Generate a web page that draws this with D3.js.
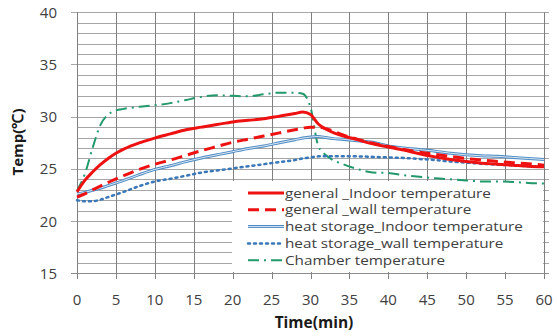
<!DOCTYPE html>
<html>
<head>
<meta charset="utf-8">
<script src="https://cdn.jsdelivr.net/npm/d3@7"></script>
<style>
  body { margin: 0; background: #fff; }
  svg { display: block; }
  text { font-family: "Open Sans", "Liberation Sans", sans-serif; }
</style>
</head>
<body>
<div id="chart"></div>
<script>
//time in minutes, shared by every series
const times = [0,1,2,3,4,5,6,8,10,12,14,16,18,20,22,24,26,28,29,30,31,32,33,34,36,38,40,42,44,46,48,50,52,54,56,58,60];

const generalIndoor = [22.8,23.9,24.7,25.4,26.0,26.5,26.9,27.5,27.95,28.35,28.75,29.0,29.25,29.5,29.65,29.8,30.05,30.3,30.45,30.2,29.3,28.8,28.45,28.2,27.8,27.4,27.1,26.8,26.45,26.15,25.9,25.7,25.55,25.45,25.35,25.25,25.2];
const generalWall = [22.3,22.6,23.0,23.35,23.7,24.05,24.35,24.95,25.45,25.85,26.3,26.75,27.15,27.55,27.85,28.15,28.45,28.75,28.9,29.0,29.0,28.85,28.6,28.3,27.85,27.45,27.15,26.85,26.6,26.4,26.2,26.0,25.85,25.7,25.6,25.5,25.35];
const storageIndoor = [22.6,22.75,22.95,23.15,23.4,23.65,23.9,24.45,24.95,25.3,25.7,26.05,26.35,26.65,26.95,27.2,27.5,27.8,27.95,28.05,28.1,28.0,27.9,27.85,27.7,27.55,27.2,27.0,26.85,26.7,26.5,26.35,26.25,26.2,26.1,26.0,25.9];
const storageWall = [22.0,21.9,21.9,22.05,22.3,22.55,22.8,23.35,23.8,24.05,24.35,24.65,24.85,25.05,25.25,25.45,25.65,25.85,26.0,26.1,26.2,26.2,26.2,26.2,26.2,26.15,26.1,26.05,25.95,25.85,25.7,25.6,25.5,25.4,25.35,25.25,25.2];
const chamber = [22.9,24.5,27.0,29.2,30.2,30.6,30.75,30.95,31.1,31.3,31.6,31.9,32.05,32.0,31.95,32.15,32.3,32.3,32.2,30.9,27.2,26.3,25.8,25.5,25.0,24.65,24.6,24.4,24.25,24.1,24.0,23.9,23.8,23.8,23.75,23.65,23.6];

const xTicks = [0,5,10,15,20,25,30,35,40,45,50,55,60];
const yTicks = [15,20,25,30,35,40];
const seriesNames = ["general _Indoor temperature","general _wall temperature","heat storage_Indoor temperature","heat storage_wall temperature","Chamber temperature"];

const W = 557, H = 336;
const svg = d3.select("#chart").append("svg").attr("width", W).attr("height", H);

const x = d3.scaleLinear().domain([0, 60]).range([77, 544]);
const y = d3.scaleLinear().domain([15, 40]).range([273.3, 12.3]);

//gridlines, one per degree horizontally and every 5 minutes vertically
const grid = svg.append("g");
grid.selectAll("line.h")
    .data(d3.range(16, 41))
    .join("line")
    .attr("x1", d => d % 5 == 0 ? 71 : x(0))
    .attr("x2", 549)
    .attr("y1", d => Math.round(y(d)) + 0.5)
    .attr("y2", d => Math.round(y(d)) + 0.5)
    .attr("stroke", "#a6a6a6")
    .attr("stroke-width", 1);
grid.selectAll("line.v")
    .data(xTicks)
    .join("line")
    .attr("x1", d => Math.round(x(d)) + 0.5)
    .attr("x2", d => Math.round(x(d)) + 0.5)
    .attr("y1", y(40))
    .attr("y2", 279)
    .attr("stroke", "#808080")
    .attr("stroke-width", 1);

//x axis baseline
svg.append("line")
    .attr("x1", 71).attr("x2", 549)
    .attr("y1", Math.round(y(15)) + 0.5).attr("y2", Math.round(y(15)) + 0.5)
    .attr("stroke", "#8c8c8c");

//tick labels
svg.append("g").selectAll("text")
    .data(yTicks)
    .join("text")
    .attr("x", 57)
    .attr("y", d => y(d))
    .attr("dy", "0.36em")
    .attr("text-anchor", "end")
    .attr("font-size", 15)
    .attr("fill", "#404040")
    .text(d => d);
svg.append("g").selectAll("text")
    .data(xTicks)
    .join("text")
    .attr("x", d => x(d))
    .attr("y", 305)
    .attr("text-anchor", "middle")
    .attr("font-size", 15)
    .attr("fill", "#404040")
    .text(d => d);

//axis titles
svg.append("text")
    .attr("x", 314).attr("y", 328)
    .attr("text-anchor", "middle")
    .attr("font-size", 15.5).attr("font-weight", "bold")
    .attr("fill", "#1a1a1a")
    .text("Time(min)");
svg.append("text")
    .attr("transform", "translate(23,142) rotate(-90)")
    .attr("text-anchor", "middle")
    .attr("font-size", 15).attr("font-weight", "bold")
    .attr("fill", "#1a1a1a")
    .text("Temp(℃)");

//line styles per series
const styles = [
    {data: generalIndoor, color: "#ee1111", width: 3, dash: null},
    {data: generalWall, color: "#ee1111", width: 3, dash: "11,6"},
    {data: storageIndoor, color: "#4f8cc4", width: 3, dash: null, inner: "#dbe8f5"},
    {data: storageWall, color: "#3a78b8", width: 2.5, dash: "2,4"},
    {data: chamber, color: "#21996a", width: 2, dash: "11,5,2,5"}
];

const line = d3.line()
    .x((d, i) => x(times[i]))
    .y(d => y(d))
    .curve(d3.curveMonotoneX);

//legend background sits above the gridlines but below the lines
svg.append("rect")
    .attr("x", 232).attr("y", 181)
    .attr("width", 311).attr("height", 91)
    .attr("fill", "#fff");

const plot = svg.append("g");
styles.slice().reverse().forEach(s => {
    plot.append("path")
        .attr("d", line(s.data))
        .attr("fill", "none")
        .attr("stroke", s.color)
        .attr("stroke-width", s.width)
        .attr("stroke-dasharray", s.dash)
        .attr("stroke-linecap", s.dash == "2,4" ? "round" : "butt");
    if (s.inner) {
        plot.append("path")
            .attr("d", line(s.data))
            .attr("fill", "none")
            .attr("stroke", s.inner)
            .attr("stroke-width", 1);
    }
});

//legend
const legend = svg.append("g");
const rowY = i => 193 + i * 16.8;
styles.forEach((s, i) => {
    legend.append("line")
        .attr("x1", 248).attr("x2", 284)
        .attr("y1", rowY(i)).attr("y2", rowY(i))
        .attr("stroke", s.color)
        .attr("stroke-width", s.width)
        .attr("stroke-dasharray", s.dash)
        .attr("stroke-linecap", s.dash == "2,4" ? "round" : "butt");
    if (s.inner) {
        legend.append("line")
            .attr("x1", 248).attr("x2", 284)
            .attr("y1", rowY(i)).attr("y2", rowY(i))
            .attr("stroke", s.inner).attr("stroke-width", 1);
    }
    legend.append("text")
        .attr("class", "lg")
        .attr("transform", `translate(285,${rowY(i)})`)
        .attr("dy", "0.36em")
        .attr("font-family", "Liberation Sans, Arial, sans-serif")
        .attr("font-size", 13)
        .attr("fill", "#404040")
        .text(seriesNames[i]);
});

//the reference legend font is wider: stretch so the longest entry spans ~238px
const widest = d3.max(legend.selectAll("text.lg").nodes(), n => n.getComputedTextLength());
const sx = 238 / widest;
legend.selectAll("text.lg")
    .attr("transform", (d, i) => `translate(285,${rowY(i)}) scale(${sx},1)`);
</script>
</body>
</html>
